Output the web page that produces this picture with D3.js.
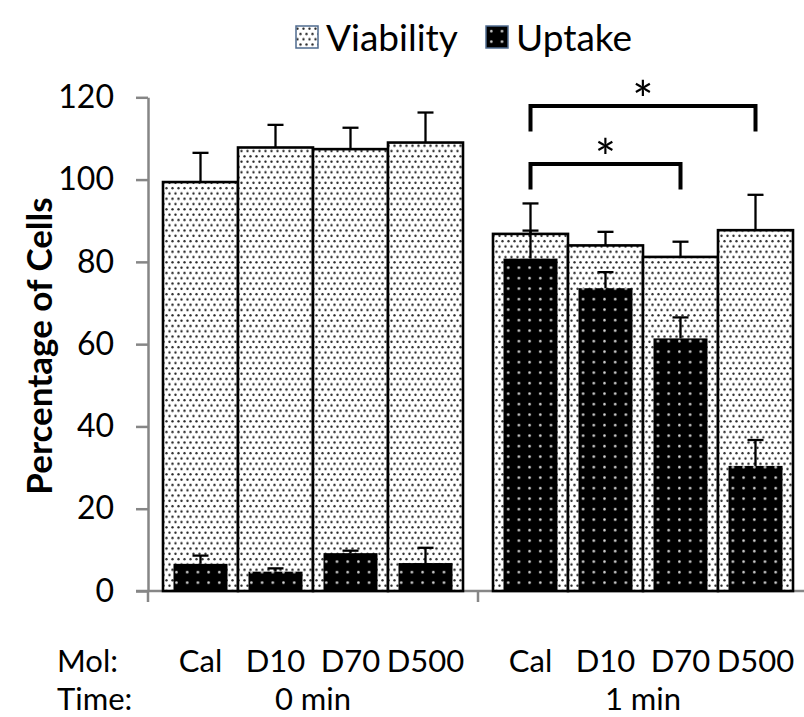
<!DOCTYPE html>
<html>
<head>
<meta charset="utf-8">
<script src="https://cdn.jsdelivr.net/npm/d3@7"></script>
<style>
  body { margin: 0; background: #fff; }
  svg { display: block; font-family: Lato, 'Open Sans', sans-serif; }
</style>
</head>
<body>
<div id="chart"></div>
<script>
// values
const groups = ['0 min', '1 min'];
const mols = ['Cal', 'D10', 'D70', 'D500'];
const viability    = [99.4, 107.8, 107.4, 109.0, 86.8, 84.0, 81.2, 87.7];
const viabilityErr = [7.1, 5.5, 5.2, 7.3, 7.4, 3.3, 3.7, 8.6];
const uptake       = [6.6, 4.7, 9.2, 6.8, 80.8, 73.6, 61.4, 30.4];
const uptakeErr    = [2.0, 0.8, 0.6, 3.7, 6.8, 3.9, 5.1, 6.3];
const yTicks = [0, 20, 40, 60, 80, 100, 120];
// significance brackets (in the 1 min group)
const brackets = [
    { group: '1 min', from: 'Cal', to: 'D70', level: 103.8, drop: 6.2, label: '*' },
    { group: '1 min', from: 'Cal', to: 'D500', level: 117.9, drop: 6.2, label: '*' }
];

const width = 804, height = 717;

const svg = d3.select('#chart').append('svg')
    .attr('width', width)
    .attr('height', height);

const defs = svg.append('defs');

// light dotted fill (viability)
const pLight = defs.append('pattern')
    .attr('id', 'dotsLight')
    .attr('patternUnits', 'userSpaceOnUse')
    .attr('width', 6)
    .attr('height', 10.6);
pLight.append('rect').attr('width', 6).attr('height', 10.6).attr('fill', '#fff');
pLight.append('circle').attr('cx', 1.5).attr('cy', 2.6).attr('r', 1.2).attr('fill', '#2a2a2a');
pLight.append('circle').attr('cx', 4.5).attr('cy', 7.9).attr('r', 1.2).attr('fill', '#2a2a2a');

// dark dotted fill (uptake)
const pDark = defs.append('pattern')
    .attr('id', 'dotsDark')
    .attr('patternUnits', 'userSpaceOnUse')
    .attr('width', 10.7)
    .attr('height', 10.5);
pDark.append('rect').attr('width', 10.7).attr('height', 10.5).attr('fill', '#000');
pDark.append('circle').attr('cx', 5.3).attr('cy', 5.2).attr('r', 1.3).attr('fill', '#d8d8d8');

const y = d3.scaleLinear()
    .domain([0, 120])
    .range([591, 97.3]);

const x0 = d3.scaleBand()
    .domain(groups)
    .range([148, 808]);

const x1 = d3.scaleBand()
    .domain(mols)
    .range([0, x0.bandwidth()])
    .paddingInner(0)
    .paddingOuter(0.2);

const uptakeWidth = x1.bandwidth() * 0.72;
const capW = 16;

// flat table built from the arrays
const rows = [];
groups.forEach((g, gi) => {
    mols.forEach((m, mi) => {
        const i = gi * mols.length + mi;
        rows.push({
            group: g, mol: m,
            cx: x0(g) + x1(m) + x1.bandwidth() / 2,
            viability: viability[i], viabilityErr: viabilityErr[i],
            uptake: uptake[i], uptakeErr: uptakeErr[i]
        });
    });
});

// axes
const yAxis = svg.append('g')
    .attr('transform', 'translate(148,0)')
    .call(d3.axisLeft(y)
        .tickValues(yTicks)
        .tickSize(12)
        .tickSizeOuter(0)
        .tickPadding(22));
yAxis.select('.domain').attr('stroke', '#868686').attr('stroke-width', 2.5);
yAxis.selectAll('.tick line').attr('stroke', '#868686').attr('stroke-width', 2.5);
yAxis.selectAll('.tick text')
    .attr('font-family', 'Lato, sans-serif')
    .attr('font-size', 32)
    .attr('fill', '#000');

const xAxis = svg.append('g');
xAxis.append('line')
    .attr('x1', 136).attr('x2', x0.range()[1])
    .attr('y1', y(0)).attr('y2', y(0))
    .attr('stroke', '#868686').attr('stroke-width', 2.5);
xAxis.selectAll('.xtick')
    .data(groups.map(g => x0(g)).concat([x0.range()[1]]))
  .enter().append('line')
    .attr('x1', d => d).attr('x2', d => d)
    .attr('y1', y(0)).attr('y2', y(0) + 11)
    .attr('stroke', '#868686').attr('stroke-width', 2.5);

// viability bars
svg.append('g').selectAll('rect')
    .data(rows)
  .enter().append('rect')
    .attr('x', d => d.cx - x1.bandwidth() / 2)
    .attr('y', d => y(d.viability))
    .attr('width', x1.bandwidth())
    .attr('height', d => y(0) - y(d.viability))
    .attr('fill', 'url(#dotsLight)')
    .attr('stroke', '#000')
    .attr('stroke-width', 2.6);

function errorBars(key, errKey) {
    const g = svg.append('g')
        .attr('stroke', '#000')
        .attr('stroke-width', 2.3);
    g.selectAll('.stem')
        .data(rows)
      .enter().append('line')
        .attr('x1', d => d.cx).attr('x2', d => d.cx)
        .attr('y1', d => y(d[key])).attr('y2', d => y(d[key] + d[errKey]));
    g.selectAll('.cap')
        .data(rows)
      .enter().append('line')
        .attr('x1', d => d.cx - capW / 2).attr('x2', d => d.cx + capW / 2)
        .attr('y1', d => y(d[key] + d[errKey])).attr('y2', d => y(d[key] + d[errKey]));
}

errorBars('viability', 'viabilityErr');

// uptake bars
svg.append('g').selectAll('rect')
    .data(rows)
  .enter().append('rect')
    .attr('x', d => d.cx - uptakeWidth / 2)
    .attr('y', d => y(d.uptake))
    .attr('width', uptakeWidth)
    .attr('height', d => y(0) - y(d.uptake))
    .attr('fill', 'url(#dotsDark)');

errorBars('uptake', 'uptakeErr');

// significance brackets
const bx = (g, m) => x0(g) + x1(m) + x1.bandwidth() / 2;
const br = svg.append('g');
br.selectAll('path')
    .data(brackets)
  .enter().append('path')
    .attr('d', d => {
        const xa = bx(d.group, d.from), xb = bx(d.group, d.to);
        const yl = y(d.level), yd = y(d.level - d.drop);
        return 'M' + xa + ',' + yd + 'V' + yl + 'H' + xb + 'V' + yd;
    })
    .attr('fill', 'none')
    .attr('stroke', '#000')
    .attr('stroke-width', 4)
    .attr('stroke-linejoin', 'miter');
br.selectAll('text')
    .data(brackets)
  .enter().append('text')
    .attr('x', d => (bx(d.group, d.from) + bx(d.group, d.to)) / 2)
    .attr('y', d => y(d.level) + 12)
    .attr('text-anchor', 'middle')
    .attr('font-size', 50)
    .text(d => d.label);

// y title
svg.append('text')
    .attr('transform', 'translate(52,346) rotate(-90)')
    .attr('text-anchor', 'middle')
    .attr('font-size', 35)
    .attr('font-weight', 'bold')
    .text('Percentage of Cells');

// category labels
const labels = svg.append('g').attr('font-size', 31);
labels.append('text').attr('x', 57).attr('y', 672).text('Mol:');
labels.append('text').attr('x', 57).attr('y', 710).text('Time:');
labels.selectAll('.mol')
    .data(rows)
  .enter().append('text')
    .attr('x', d => d.cx)
    .attr('y', 672)
    .attr('text-anchor', 'middle')
    .text(d => d.mol);
labels.selectAll('.grp')
    .data(groups)
  .enter().append('text')
    .attr('x', d => x0(d) + x0.bandwidth() / 2)
    .attr('y', 710)
    .attr('text-anchor', 'middle')
    .text(d => d);

// legend
const legendItems = [
    { name: 'Viability', fill: 'url(#dotsLight)', x: 296 },
    { name: 'Uptake', fill: 'url(#dotsDark)', x: 486 }
];
const legend = svg.append('g');
const li = legend.selectAll('g')
    .data(legendItems)
  .enter().append('g')
    .attr('transform', d => 'translate(' + d.x + ',26)');
li.append('rect')
    .attr('width', 22).attr('height', 22)
    .attr('fill', d => d.fill)
    .attr('stroke', '#4f6b8f')
    .attr('stroke-width', 1.5);
li.append('text')
    .attr('x', 30)
    .attr('y', 25)
    .attr('font-size', 37)
    .text(d => d.name);
</script>
</body>
</html>
